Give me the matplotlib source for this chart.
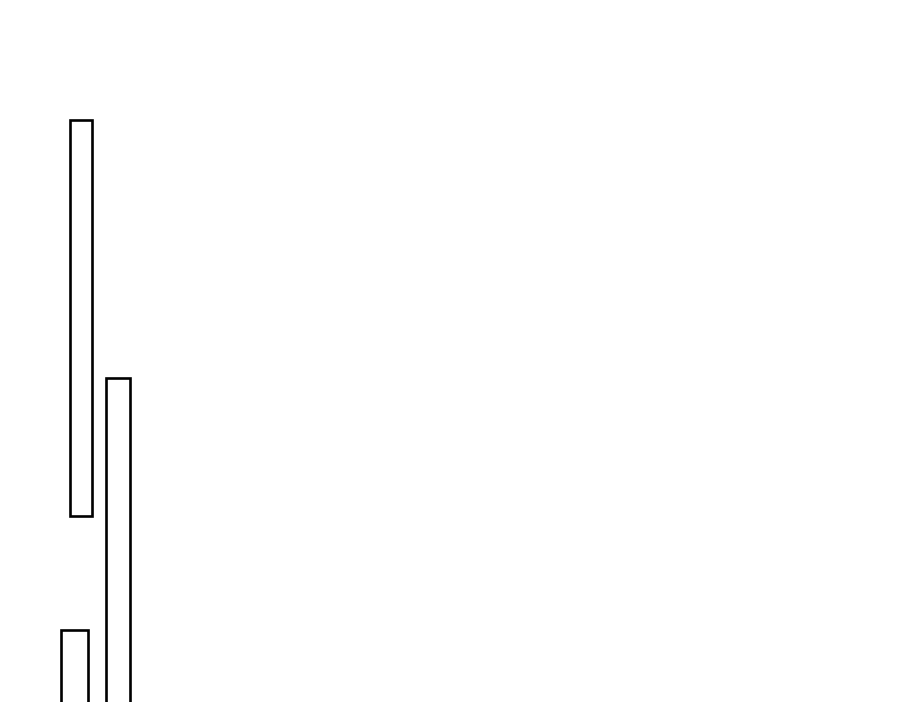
import matplotlib
matplotlib.use("Agg")
import matplotlib.pyplot as plt

# floating bars (figure pixel units, y measured up from the bottom edge)
bar_names = ["A", "B", "C"]
bar_left = [70, 106, 61]
bar_width = [22, 24, 27]
bar_low = [186.5, -20, -20]
bar_high = [582.5, 324.3, 71.7]

fig = plt.figure(figsize=(9, 7.02), dpi=100)
ax = fig.add_axes([0, 0, 1, 1])

heights = [hi - lo for lo, hi in zip(bar_low, bar_high)]
ax.bar(bar_left, heights, width=bar_width, bottom=bar_low, align="edge",
       facecolor="white", edgecolor="black", linewidth=1.9)

ax.set_xlim(0, 900)
ax.set_ylim(0, 702)
ax.axis("off")

fig.savefig("out.png", dpi=100, facecolor="white")
